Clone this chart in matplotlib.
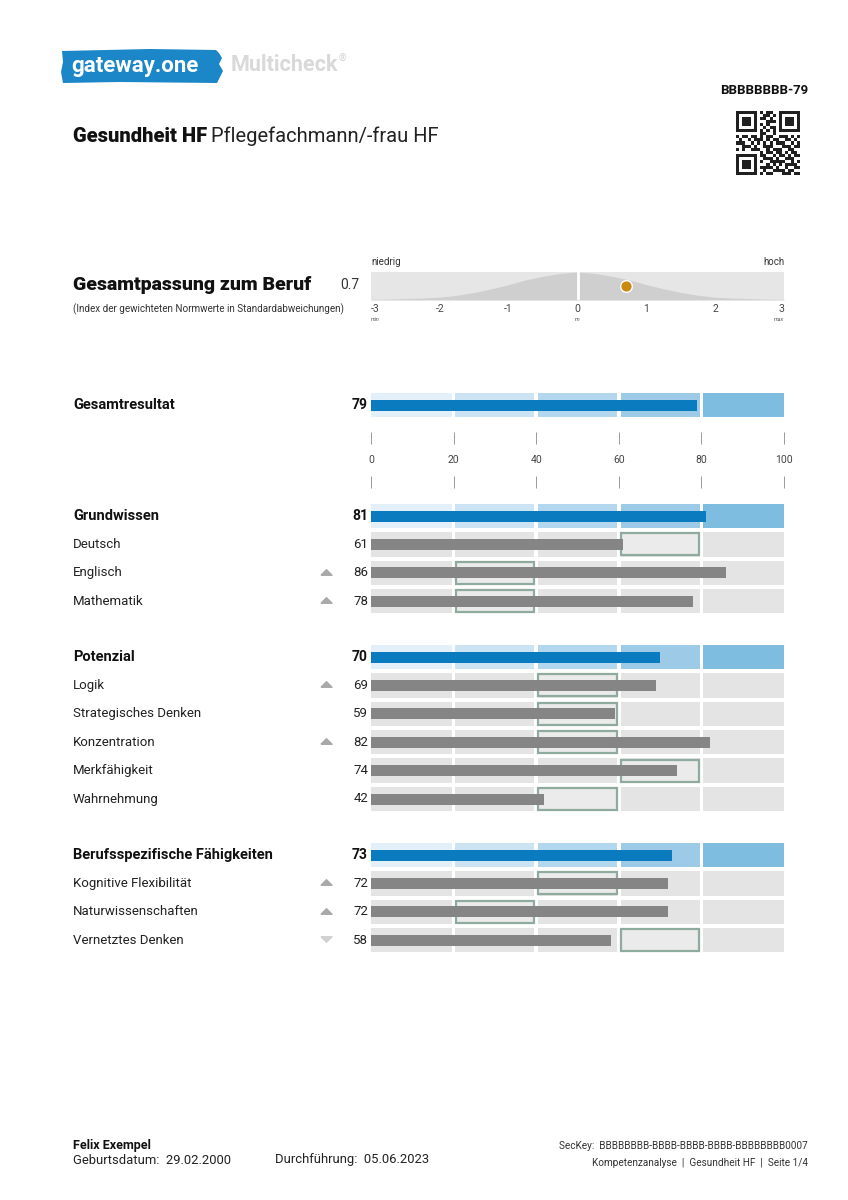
import matplotlib
matplotlib.use("Agg")
import numpy as np
import matplotlib.pyplot as plt
from matplotlib.patches import Rectangle, Polygon
from matplotlib.path import Path

plt.rcParams["font.family"] = ["Roboto", "DejaVu Sans"]

# ---- data ----
overall_label = "Gesamtresultat"
overall_value = 79

group_labels = ["Grundwissen", "Potenzial", "Berufsspezifische Fähigkeiten"]
group_values = [81, 70, 73]

sub_labels = [
    ["Deutsch", "Englisch", "Mathematik"],
    ["Logik", "Strategisches Denken", "Konzentration", "Merkfähigkeit", "Wahrnehmung"],
    ["Kognitive Flexibilität", "Naturwissenschaften", "Vernetztes Denken"],
]
sub_values = [
    [61, 86, 78],
    [69, 59, 82, 74, 42],
    [72, 72, 58],
]
# lower bound of the required band (width 20)
target_low = [
    [60, 20, 20],
    [40, 40, 40, 60, 40],
    [40, 20, 60],
]
trends = [
    ["", "up", "up"],
    ["up", "", "up", "", ""],
    ["up", "up", "down"],
]

scale_ticks = [0, 20, 40, 60, 80, 100]

gauge_value = 0.7
gauge_ticks = [-3, -2, -1, 0, 1, 2, 3]
curve_x = [-3, -2.75, -2.5, -2.25, -2, -1.75, -1.5, -1.25, -1, -0.75, -0.5, -0.25, 0,
           0.25, 0.5, 0.75, 1, 1.25, 1.5, 1.75, 2, 2.25, 2.5, 2.75, 3]
curve_h = [0.02, 0.03, 0.05, 0.07, 0.10, 0.17, 0.27, 0.40, 0.55, 0.72, 0.85, 0.95, 1.0,
           0.95, 0.85, 0.72, 0.55, 0.40, 0.27, 0.17, 0.10, 0.07, 0.05, 0.03, 0.02]

qr_rows = [
    "111111101011001111111",
    "100000100110101000001",
    "101110101101001011101",
    "101110100011101011101",
    "101110101010001011101",
    "100000100101101000001",
    "111111101010101111111",
    "000000001100100000000",
    "101101101011001110101",
    "010010111010110011010",
    "111001010101011100101",
    "001110100111000111011",
    "101001110010111001100",
    "000000001011011010110",
    "111111101100101101011",
    "100000100111010011100",
    "101110101001111100101",
    "101110100010101011110",
    "101110101111010010011",
    "100000100100111101100",
    "111111101011000111011",
]

# ---- layout (page pixels) ----
W, H = 848, 1200
X0, X1 = 371, 784          # 0 .. 100 of the bar scale
overall_y = 405
header_y = [516, 657, 855]
row_step = 28.4
band_h = 24.5
bar_h = 11

blue_shades = ["#e3f0f9", "#cbe3f3", "#b3d7ee", "#9dcbe7", "#7fbde0"]
blue_bar = "#0a7bbf"
grey_band = "#e4e4e4"
grey_bar = "#858585"
box_edge = "#8eab9d"
box_fill = "#ebebeb"
txt = "#222222"

fig = plt.figure(figsize=(W / 100, H / 100), dpi=100)
page = fig.add_axes([0, 0, 1, 1])
page.set_xlim(0, W)
page.set_ylim(H, 0)
page.axis("off")

# bar axes: x = score 0..100, y = page pixels
bx = fig.add_axes([X0 / W, 1 - 965 / H, (X1 - X0) / W, (965 - 385) / H], zorder=2)
bx.set_xlim(0, 100)
bx.set_ylim(965, 385)
bx.axis("off")


def band_segments(y, colors):
    for k in range(5):
        left = 20 * k + (0.45 if k > 0 else 0)
        right = 20 * (k + 1) - (0.45 if k < 4 else 0)
        bx.add_patch(Rectangle((left, y - band_h / 2), right - left, band_h,
                               color=colors[k], lw=0, zorder=1))


def header_row(y, label, value):
    band_segments(y, blue_shades)
    bx.barh(y, value, height=bar_h, color=blue_bar, zorder=3)
    page.text(73, y, label, fontsize=10.5, fontweight="bold", color="#111111", va="center")
    page.text(368, y, str(value), fontsize=10, fontweight="bold", color="#111111",
              va="center", ha="right")


tri_up = Path([(-1, -0.5), (1, -0.5), (0, 0.5), (-1, -0.5)])
tri_down = Path([(-1, 0.5), (1, 0.5), (0, -0.5), (-1, 0.5)])

# overall result
header_row(overall_y, overall_label, overall_value)

# scale
bx.vlines(scale_ticks, 432, 444, color="#9a9a9a", lw=0.7, clip_on=False)
bx.vlines(scale_ticks, 476, 488, color="#9a9a9a", lw=0.7, clip_on=False)
for t in scale_ticks:
    bx.text(t, 460, str(t), fontsize=7.5, color="#444444", ha="center", va="center",
            clip_on=False)

for g in range(len(group_labels)):
    gy = header_y[g]
    header_row(gy, group_labels[g], group_values[g])
    for i, (lab, val) in enumerate(zip(sub_labels[g], sub_values[g])):
        y = gy + (i + 1) * row_step
        band_segments(y, [grey_band] * 5)
        lo = target_low[g][i]
        bx.add_patch(Rectangle((lo + 0.55, y - band_h / 2 + 1.2), 18.9, band_h - 2.4,
                               facecolor=box_fill, edgecolor=box_edge, lw=1.6, zorder=2))
        bx.barh(y, val, height=bar_h, color=grey_bar, zorder=3)
        page.text(73, y, lab, fontsize=9.5, color=txt, va="center")
        page.text(368, y, str(val), fontsize=9.5, color=txt, va="center", ha="right")
        if trends[g][i] == "up":
            page.plot(326, y - 1, marker=tri_up, markersize=8, color="#a9a9a9", lw=0)
        elif trends[g][i] == "down":
            page.plot(326, y - 1, marker=tri_down, markersize=8, color="#d2d2d2", lw=0)

# ---- gauge ----
gx = fig.add_axes([X0 / W, 1 - 300 / H, (X1 - X0) / W, 28 / H], zorder=2)
gx.set_xlim(-3, 3)
gx.set_ylim(0, 1)
gx.set_facecolor("#e6e6e6")
for s in gx.spines.values():
    s.set_visible(False)
gx.set_xticks([])
gx.set_yticks([])
gx.fill_between(curve_x, 0, curve_h, color="#cfcfcf", lw=0)
gx.axvline(0, color="white", lw=2)
gx.scatter([gauge_value], [0.5], s=70, color="#c98a10", edgecolor="white", lw=1,
           zorder=5, clip_on=False)
tr = gx.get_xaxis_transform()
for t in gauge_ticks:
    ha = "left" if t == gauge_ticks[0] else ("right" if t == gauge_ticks[-1] else "center")
    gx.text(t, -0.32, str(t), transform=tr, fontsize=7.5, color="#444444", ha=ha, va="center")
gx.text(gauge_ticks[0], -0.68, "min", transform=tr, fontsize=4, style="italic",
        color="#555555", ha="left", va="center")
gx.text(0, -0.68, "m", transform=tr, fontsize=4, style="italic", color="#555555",
        ha="center", va="center")
gx.text(gauge_ticks[-1], -0.68, "max", transform=tr, fontsize=4, style="italic",
        color="#555555", ha="right", va="center")
page.text(371, 262, "niedrig", fontsize=7, color="#333333", va="center")
page.text(784, 262, "hoch", fontsize=7, color="#333333", va="center", ha="right")

page.text(73, 285, "Gesamtpassung zum Beruf", fontsize=14, fontweight="heavy",
          color="#111111", va="center")
page.text(359, 285, f"{gauge_value}", fontsize=10, color="#333333", va="center", ha="right")
page.text(73, 309, "(Index der gewichteten Normwerte in Standardabweichungen)", fontsize=7.1,
          color="#333333", va="center")

# ---- header ----
logo = Polygon([(62, 51), (150, 49), (216, 50), (219, 53), (222, 58), (219, 64), (223, 71),
                (220, 77), (217, 83), (120, 82), (63, 83), (61, 72), (63, 62)],
               closed=True, color="#1b87c9", lw=0)
page.add_patch(logo)
page.text(71, 66, "gateway.one", fontsize=16, fontweight="bold", color="white", va="center")
m = page.text(231, 65, "Multicheck", fontsize=15.5, fontweight="bold", color="#d9d9d9",
              va="center")
page.annotate("®", xy=(1, 1), xycoords=m, xytext=(0.5, 1), textcoords="offset points",
              fontsize=7, fontweight="bold", color="#d9d9d9", ha="left", va="top")

page.text(808, 90, "BBBBBBBB-79", fontsize=9.5, fontweight="bold", color="#111111",
          va="center", ha="right")

t1 = page.text(73, 137, "Gesundheit HF", fontsize=14.5, fontweight="heavy", color="#111111",
               va="center")
page.annotate("Pflegefachmann/-frau HF", xy=(1, 0), xycoords=t1, xytext=(3, 0),
              textcoords="offset points", fontsize=14.5, color="#222222",
              ha="left", va="bottom")

qr = np.array([[int(c) for c in r] for r in qr_rows])
qx = fig.add_axes([736 / W, 1 - 175 / H, 64 / W, 64 / H])
qx.imshow(qr, cmap="gray_r", interpolation="nearest", vmin=0, vmax=1.15)
qx.axis("off")

# ---- footer ----
page.text(73, 1145, "Felix Exempel", fontsize=9, fontweight="bold", color="#111111",
          va="center")
page.text(73, 1160, "Geburtsdatum:  29.02.2000", fontsize=9.4, color="#222222", va="center")
page.text(275, 1160, "Durchführung:  05.06.2023", fontsize=9.4, color="#222222", va="center")
page.text(808, 1146, "SecKey:  BBBBBBBB-BBBB-BBBB-BBBB-BBBBBBBB0007", fontsize=7.2,
          color="#333333", va="center", ha="right")
page.text(808, 1163, "Kompetenzanalyse  |  Gesundheit HF  |  Seite 1/4", fontsize=7.2,
          color="#333333", va="center", ha="right")

fig.savefig("out.png", dpi=100, facecolor="white")
